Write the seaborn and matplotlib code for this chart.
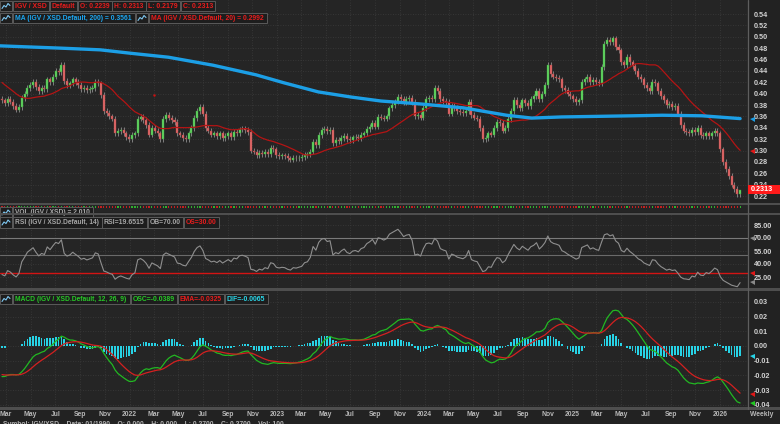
import numpy as np
import pandas as pd
import matplotlib
matplotlib.use("Agg")
import matplotlib.pyplot as plt
import matplotlib.transforms as mtransforms
from matplotlib.patches import Rectangle
import seaborn as sns

# ---------------- data ----------------
first_week = "2021-02-19"
# closes before the visible window (estimated from the starting level of the 20-week MA)
warmup_closes = [0.478, 0.482, 0.476, 0.480, 0.474, 0.479, 0.472, 0.476, 0.470, 0.468, 0.470,
                 0.465, 0.460, 0.458, 0.455, 0.445, 0.440, 0.430, 0.425, 0.410,
                 0.400, 0.395, 0.390, 0.400, 0.395, 0.390, 0.392, 0.395, 0.390]
closes = [
    0.388, 0.384, 0.390, 0.386, 0.378, 0.372, 0.376, 0.392, 0.400, 0.410,
    0.415, 0.420, 0.412, 0.405, 0.410, 0.408, 0.425, 0.420, 0.430, 0.440,
    0.438, 0.450, 0.422, 0.415, 0.418, 0.425, 0.420, 0.415, 0.408, 0.410,
    0.406, 0.408, 0.410, 0.420, 0.418, 0.398, 0.370, 0.366, 0.360, 0.356,
    0.330, 0.334, 0.336, 0.330, 0.324, 0.320, 0.327, 0.330, 0.356, 0.359,
    0.354, 0.345, 0.328, 0.340, 0.335, 0.330, 0.320, 0.355, 0.362, 0.358,
    0.354, 0.350, 0.330, 0.328, 0.322, 0.320, 0.330, 0.340, 0.357, 0.370,
    0.376, 0.365, 0.340, 0.335, 0.328, 0.330, 0.325, 0.330, 0.322, 0.326,
    0.330, 0.324, 0.332, 0.330, 0.337, 0.338, 0.336, 0.333, 0.300, 0.298,
    0.292, 0.296, 0.293, 0.297, 0.294, 0.304, 0.302, 0.292, 0.290, 0.291,
    0.290, 0.286, 0.284, 0.287, 0.286, 0.287, 0.288, 0.292, 0.293, 0.298,
    0.315, 0.310, 0.327, 0.336, 0.338, 0.334, 0.336, 0.313, 0.318, 0.316,
    0.322, 0.326, 0.320, 0.318, 0.323, 0.324, 0.322, 0.328, 0.330, 0.338,
    0.342, 0.348, 0.342, 0.359, 0.358, 0.356, 0.360, 0.374, 0.380, 0.386,
    0.394, 0.390, 0.385, 0.390, 0.392, 0.385, 0.360, 0.362, 0.358, 0.375,
    0.390, 0.392, 0.390, 0.410, 0.405, 0.390, 0.387, 0.385, 0.365, 0.378,
    0.375, 0.370, 0.368, 0.366, 0.370, 0.385, 0.362, 0.358, 0.356, 0.340,
    0.320, 0.322, 0.330, 0.328, 0.340, 0.350, 0.348, 0.335, 0.340, 0.355,
    0.370, 0.389, 0.380, 0.375, 0.388, 0.383, 0.378, 0.390, 0.395, 0.405,
    0.390, 0.400, 0.415, 0.450, 0.435, 0.430, 0.428, 0.425, 0.410, 0.406,
    0.400, 0.395, 0.390, 0.385, 0.388, 0.420, 0.425, 0.430, 0.420, 0.424,
    0.420, 0.418, 0.447, 0.488, 0.495, 0.490, 0.497, 0.482, 0.476, 0.455,
    0.450, 0.465, 0.455, 0.448, 0.440, 0.430, 0.425, 0.415, 0.410, 0.405,
    0.420, 0.418, 0.405, 0.395, 0.388, 0.380, 0.382, 0.377, 0.378, 0.365,
    0.345, 0.335, 0.333, 0.330, 0.336, 0.332, 0.340, 0.327, 0.325, 0.330,
    0.326, 0.330, 0.335, 0.330, 0.302, 0.280, 0.268, 0.255, 0.240, 0.232,
    0.2239, 0.2313,
]
last_high = 0.2313
last_low = 0.2179

ma200_dates = ["2021-02-14", "2021-07-13", "2021-10-20", "2022-01-03", "2022-04-07",
               "2022-07-26", "2022-11-10", "2023-01-18", "2023-04-13", "2023-07-03",
               "2023-09-15", "2023-12-19", "2024-04-06", "2024-07-22", "2024-09-22",
               "2024-12-05", "2025-05-28", "2025-08-11", "2025-11-18", "2026-02-20"]
ma200_values = [0.484, 0.480, 0.477, 0.471, 0.464, 0.450, 0.433, 0.419, 0.403, 0.394,
                0.387, 0.382, 0.375, 0.362, 0.357, 0.359, 0.361, 0.362, 0.361, 0.3561]

marker_dates = ["2022-03-01"]
marker_values = [0.397]

price_ticks = [0.22, 0.24, 0.26, 0.28, 0.30, 0.32, 0.34, 0.36, 0.38, 0.40,
               0.42, 0.44, 0.46, 0.48, 0.50, 0.52, 0.54]
rsi_ticks = [25, 40, 55, 70, 85]
macd_ticks = [0.03, 0.02, 0.01, 0.00, -0.01, -0.02, -0.03, -0.04]

legend_price = ["IGV / XSD", "Default", "O: 0.2239", "H: 0.2313", "L: 0.2179", "C: 0.2313"]
legend_ma200 = "MA (IGV / XSD.Default, 200) = 0.3561"
legend_ma20 = "MA (IGV / XSD.Default, 20) = 0.2992"
legend_vol = "VOL (IGV / XSD) = 2.010"
legend_rsi = ["RSI (IGV / XSD.Default, 14)", "RSI=19.6515", "OB=70.00", "OS=30.00"]
legend_macd = ["MACD (IGV / XSD.Default, 12, 26, 9)", "OSC=-0.0389", "EMA=-0.0325", "DIF=-0.0065"]
status_text = "Symbol: IGV/XSD    Date: 01/1990    O: 0.000    H: 0.000    L: 0.2700    C: 0.2700    Vol: 100"

# ---------------- derived series ----------------
nw = len(warmup_closes)
dates = pd.date_range(first_week, periods=len(closes), freq="7D")
allc = pd.Series(warmup_closes + closes, dtype=float)
c = allc.iloc[nw:].to_numpy()
o = allc.shift(1).iloc[nw:].to_numpy()
ma20 = allc.rolling(20).mean().iloc[nw:].to_numpy()
delta = allc.diff()
gain = delta.clip(lower=0).ewm(alpha=1 / 14, adjust=False).mean()
loss = (-delta.clip(upper=0)).ewm(alpha=1 / 14, adjust=False).mean()
rsi = (100 - 100 / (1 + gain / loss)).iloc[nw:].to_numpy()
ema12 = allc.ewm(span=12, adjust=False).mean()
ema26 = allc.ewm(span=26, adjust=False).mean()
osc_all = ema12 - ema26
sig_all = osc_all.ewm(span=9, adjust=False).mean()
osc = osc_all.iloc[nw:].to_numpy()
sig = sig_all.iloc[nw:].to_numpy()
hist = osc - sig

WICK = 0.005  # drawing style: wick extension
hi = np.maximum(o, c) + WICK
lo = np.minimum(o, c) - WICK
hi[-1] = last_high
lo[-1] = last_low

# ---------------- figure ----------------
sns.set_theme(style="dark")
plt.rcParams["font.family"] = ["Liberation Sans", "DejaVu Sans"]
W, H = 780, 424
FIG_BG = "#222222"
AX_BG = "#252525"
GRID = "#3c3c3c"
LBL = "#d2d2d2"
fig = plt.figure(figsize=(7.8, 4.24), dpi=100, facecolor=FIG_BG)


def add_px(x0, y0, x1, y1):
    a = fig.add_axes([x0 / W, 1 - y1 / H, (x1 - x0) / W, (y1 - y0) / H])
    a.set_facecolor(AX_BG)
    for s in a.spines.values():
        s.set_visible(False)
    return a


def px_to_price(y):
    return 0.54 - (y - 14) / 568.75


def px_to_rsi(y):
    return 70 - (y - 238) * 15 / 13


def px_to_macd(y):
    return -(y - 346) / 1467.0


ax_main = add_px(0, 0, 748, 203)
ax_vol = add_px(0, 205, 748, 212.5)
ax_rsi = add_px(0, 215, 748, 288)
ax_macd = add_px(0, 291, 748, 407)

PPD = 0.404
t0 = pd.Timestamp(first_week)
xmin = t0 - pd.Timedelta(days=2 / PPD)
xmax = t0 + pd.Timedelta(days=746 / PPD)
xt = pd.date_range("2021-03-01", "2026-01-01", freq="2MS")
xlabels = [str(d.year) if d.month == 1 else d.strftime("%b") for d in xt]

for a in (ax_main, ax_vol, ax_rsi, ax_macd):
    a.set_xlim(xmin, xmax)
    a.set_xticks(xt)
    a.set_xticklabels([])
    a.tick_params(axis="both", length=0)
    a.grid(True, color=GRID, linestyle=(0, (1, 2)), linewidth=0.6)
    a.yaxis.tick_right()
    a.set_xlabel("")
    a.set_ylabel("")
ax_vol.grid(False)

# --- main price panel ---
ax_main.set_ylim(px_to_price(203), px_to_price(0))
up = c >= o
body_b = np.minimum(o, c)
body_h = np.maximum(np.abs(c - o), 0.0016)
ax_main.vlines(dates, lo, hi, color="#8e8e8e", linewidth=0.6, zorder=2)
ax_main.bar(dates[up], body_h[up], bottom=body_b[up], width=5.0,
            color="#64da64", edgecolor="#3b9b3b", linewidth=0.3, zorder=3)
ax_main.bar(dates[~up], body_h[~up], bottom=body_b[~up], width=5.0,
            color="#e46b6b", edgecolor="#a64444", linewidth=0.3, zorder=3)
sns.lineplot(x=dates, y=ma20, ax=ax_main, color="#b41414", linewidth=0.9, estimator=None, zorder=4)
sns.lineplot(x=pd.to_datetime(ma200_dates), y=ma200_values, ax=ax_main, color="#1c9fe6",
             linewidth=2.4, estimator=None, zorder=5)
ax_main.scatter(pd.to_datetime(marker_dates), marker_values, s=3, color="#d01010", zorder=6, linewidths=0)
ax_main.set_yticks(price_ticks)
ax_main.set_yticklabels([f"{v:.2f}" for v in price_ticks], fontsize=5.2, fontweight="bold", color=LBL)

# --- volume strip ---
ax_vol.set_ylim(0, 1)
ax_vol.set_yticks([])
ax_vol.bar(dates, 0.18, bottom=0.62, width=3.0,
           color=np.where(up, "#2fb02f", "#c42020"), linewidth=0)

# --- RSI panel ---
ax_rsi.set_ylim(px_to_rsi(288), px_to_rsi(215))
ax_rsi.axhline(70, color="#7a7a7a", linewidth=0.8, zorder=2)
ax_rsi.axhline(50, color="#6a6a6a", linewidth=0.8, zorder=2)
ax_rsi.axhline(30, color="#d41414", linewidth=1.0, zorder=2)
sns.lineplot(x=dates, y=rsi, ax=ax_rsi, color="#8f8f8f", linewidth=0.8, estimator=None, zorder=3)
ax_rsi.set_yticks(rsi_ticks)
ax_rsi.set_yticklabels([f"{v:.2f}" for v in rsi_ticks], fontsize=5.2, fontweight="bold", color=LBL)

# --- MACD panel ---
ax_macd.set_ylim(px_to_macd(407), px_to_macd(291))
ax_macd.bar(dates, hist, width=4.2, color="#27d3e6", linewidth=0, zorder=2)
sns.lineplot(x=dates, y=osc, ax=ax_macd, color="#22b822", linewidth=0.9, estimator=None, zorder=3)
sns.lineplot(x=dates, y=sig, ax=ax_macd, color="#d42020", linewidth=0.9, estimator=None, zorder=4)
ax_macd.set_yticks(macd_ticks)
ax_macd.set_yticklabels([f"{v:.2f}".replace("-0.00", "0.00") for v in macd_ticks],
                        fontsize=5.2, fontweight="bold", color=LBL)
ax_macd.set_xticklabels(xlabels, fontsize=4.9, fontweight="bold", color="#b8b8b8")
ax_macd.tick_params(axis="x", pad=3)

for a in (ax_main, ax_rsi, ax_macd):
    a.tick_params(axis="y", pad=4)

# --- right-axis value markers ---
def mark(a, val, color, ms=3.6):
    tr = mtransforms.blended_transform_factory(a.transAxes, a.transData)
    a.plot([1.006], [val], marker="<", ms=ms, color=color, transform=tr, clip_on=False, zorder=10,
           markeredgewidth=0)

mark(ax_main, ma200_values[-1], "#1c9fe6")
mark(ax_main, 0.2992, "#e01818")
mark(ax_rsi, 70, "#8a8a8a")
mark(ax_rsi, 30, "#e01818")
mark(ax_rsi, 19.6515, "#8a8a8a")
mark(ax_macd, -0.0065, "#27d3e6")
mark(ax_macd, -0.0325, "#e01818")
mark(ax_macd, -0.0389, "#22c822")

# ---------------- overlay (legends, separators) ----------------
ov = fig.add_axes([0, 0, 1, 1], zorder=20)
ov.set_xlim(0, W)
ov.set_ylim(H, 0)
ov.axis("off")
ov.patch.set_alpha(0)

fits = []


def icon(x0, yc, h=10.5):
    ov.add_patch(Rectangle((x0, yc - h / 2), 12, h, facecolor="#1d1d1d", edgecolor="#5a5a5a",
                           lw=0.7, zorder=5))
    xs = np.array([2, 4, 6, 8, 10]) + x0
    ys = np.array([2.5, -0.5, 1.0, -2.5, -0.5]) + yc
    ov.plot(xs, ys, color="#7fc8f2", lw=0.8, zorder=6)


def box_text(x0, x1, yc, s, color, h=10.5):
    ov.add_patch(Rectangle((x0, yc - h / 2), x1 - x0, h, facecolor="#1d1d1d", edgecolor="#5a5a5a",
                           lw=0.7, zorder=5))
    t = ov.text(x0 + 2, yc + 0.3, s, color=color, fontsize=5.0, fontweight="bold",
                ha="left", va="center", zorder=6)
    fits.append((t, x1 - x0 - 4))


RED = "#e81c1c"
icon(0, 6)
edges = [12.7, 49.3, 77.3, 111.7, 145.7, 180, 215]
for i, s in enumerate(legend_price):
    box_text(edges[i] + 0.6, edges[i + 1], 6, s, RED)
icon(0, 18)
box_text(13.2, 135, 18, legend_ma200, "#1ca6f0")
icon(136, 18)
box_text(149, 267, 18, legend_ma20, RED)

# VOL legend (partly hidden under the separator)
icon(0, 212.5)
box_text(13, 93, 212.5, legend_vol, "#a8a8a8")

icon(0, 222.5)
rsi_edges = [13, 102, 147.5, 183.5, 219]
rsi_cols = ["#a6a6a6", "#a6a6a6", "#a6a6a6", RED]
for i, s in enumerate(legend_rsi):
    box_text(rsi_edges[i], rsi_edges[i + 1] - 0.5, 222.5, s, rsi_cols[i])

icon(0, 299)
macd_edges = [13, 130.5, 177.5, 224.5, 268]
macd_cols = ["#27c827", "#27c827", RED, "#2ad6e8"]
for i, s in enumerate(legend_macd):
    box_text(macd_edges[i], macd_edges[i + 1] - 0.5, 299, s, macd_cols[i])

# separators
SEP = "#4e4e4e"
for (y0, y1) in [(203, 205), (213.2, 215.2), (288, 291), (407, 409.5)]:
    ov.add_patch(Rectangle((0, y0), W, y1 - y0, facecolor=SEP, edgecolor="none", zorder=8))
ov.plot([748, 748], [0, 409], color="#5e5e5e", lw=0.9, zorder=8)

# last price tag
py = 14 + (0.54 - c[-1]) * 568.75
ov.add_patch(Rectangle((747.5, py - 4.7), 32.5, 9.4, facecolor="#ff1a1a", edgecolor="none", zorder=9))
ov.text(751, py + 0.3, f"{c[-1]:.4f}", color="white", fontsize=5.2, fontweight="bold",
        ha="left", va="center", zorder=10)

ov.text(762, 414.5, "Weekly", color="#b8b8b8", fontsize=4.9, fontweight="bold",
        ha="center", va="center", zorder=10)
ov.text(3, 420.8, status_text, color="#b0b0b0", fontsize=4.9, fontweight="bold",
        ha="left", va="top", zorder=10)

# fit legend texts to their boxes
fig.canvas.draw()
r = fig.canvas.get_renderer()
for t, tw in fits:
    w = t.get_window_extent(r).width
    if w > 0:
        t.set_fontsize(min(6.0, 5.0 * tw / w))

fig.savefig("out.png", dpi=100, facecolor=fig.get_facecolor())
